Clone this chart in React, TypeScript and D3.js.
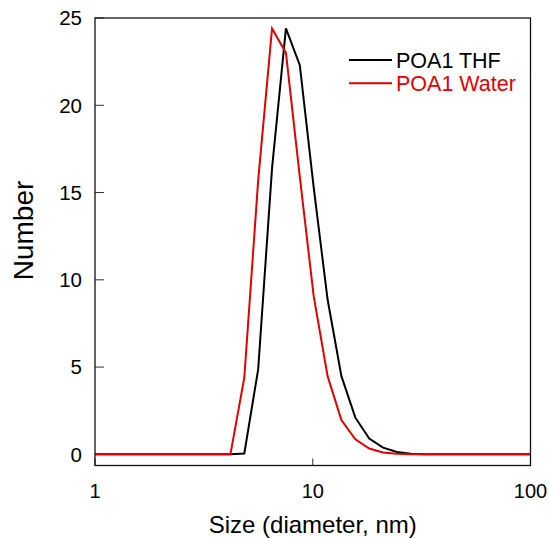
import React from 'react';
import * as d3 from 'd3';

// Malvern size bins (nm) and number distributions
const sizes = [0.9649, 1.117, 1.294, 1.499, 1.736, 2.01, 2.328, 2.696, 3.122, 3.615, 4.187, 4.849, 5.615, 6.503, 7.531, 8.721, 10.1, 11.7, 13.54, 15.69, 18.17, 21.04, 24.36, 28.21, 32.67, 37.84, 43.82, 50.75, 58.77, 68.06, 78.82, 91.28, 105.7];
const thf = [0, 0, 0, 0, 0, 0, 0, 0, 0, 0, 0, 0.05, 4.87, 16.4, 24.4, 22.3, 15.3, 8.87, 4.48, 2.1, 0.9, 0.38, 0.13, 0.04, 0.01, 0, 0, 0, 0, 0, 0, 0, 0];
const water = [0, 0, 0, 0, 0, 0, 0, 0, 0, 0, 0, 4.39, 15.7, 24.4, 23.0, 15.9, 9.06, 4.48, 1.96, 0.86, 0.33, 0.1, 0.03, 0.01, 0, 0, 0, 0, 0, 0, 0, 0, 0];

const seriesNames = ['POA1 THF', 'POA1 Water'];
const seriesColors = ['#000000', '#e00000'];
const xTicks = [1, 10, 100];
const yTicks = [0, 5, 10, 15, 20, 25];

const W = 549;
const H = 538;
const left = 95;
const right = 530.5;
const top = 18;
const bottom = 465.5;
const font = '"Liberation Sans", Arial, sans-serif';

export default function App() {
  const x = d3.scaleLog().domain([1, 100]).range([left, right]);
  const y = d3.scaleLinear().domain([-0.64, 25]).range([bottom, top]);

  const line = d3.line<[number, number]>()
    .x(d => x(d[0]))
    .y(d => y(d[1]));

  const series = [thf, water].map(vals => sizes.map((s, i) => [s, vals[i]] as [number, number]));

  return (
    <svg width={W} height={H} style={{ position: 'absolute', left: 0, top: 0 }} fontFamily={font}>
      <defs>
        <clipPath id="plot">
          <rect x={left} y={top} width={right - left} height={bottom - top} />
        </clipPath>
      </defs>
      <rect x={0} y={0} width={W} height={H} fill="#fff" />

      {/* y ticks */}
      {yTicks.map(t => (
        <g key={t}>
          <line x1={left} x2={left + 9} y1={y(t)} y2={y(t)} stroke="#333" strokeWidth={1} />
          <text x={82} y={y(t)} dy="0.36em" textAnchor="end" fontSize={20.5}>{t}</text>
        </g>
      ))}

      {/* x ticks */}
      {xTicks.map(t => (
        <g key={t}>
          <line x1={x(t)} x2={x(t)} y1={bottom} y2={bottom - 7} stroke="#333" strokeWidth={1} />
          <text x={x(t)} y={498} textAnchor="middle" fontSize={20}>{t}</text>
        </g>
      ))}

      <g clipPath="url(#plot)">
        {series.map((d, i) => (
          <path key={i} d={line(d) || ''} fill="none" stroke={seriesColors[i]} strokeWidth={2} strokeLinejoin="miter" />
        ))}
      </g>

      {/* frame */}
      <rect x={left} y={top} width={right - left} height={bottom - top} fill="none" stroke="#111" strokeWidth={1.3} />

      {/* legend */}
      {seriesNames.map((n, i) => (
        <g key={n} transform={`translate(349,${60 + i * 23.3})`}>
          <line x1={0} x2={43} y1={0} y2={0} stroke={seriesColors[i]} strokeWidth={2} />
          <text x={47} y={0} dy="0.36em" fontSize={21.5} fill={seriesColors[i]}>{n}</text>
        </g>
      ))}

      {/* axis titles */}
      <text x={(left + right) / 2} y={533} textAnchor="middle" fontSize={24}>Size (diameter, nm)</text>
      <text transform="translate(32.5,230.5) rotate(-90)" textAnchor="middle" fontSize={28}>Number</text>
    </svg>
  );
}
